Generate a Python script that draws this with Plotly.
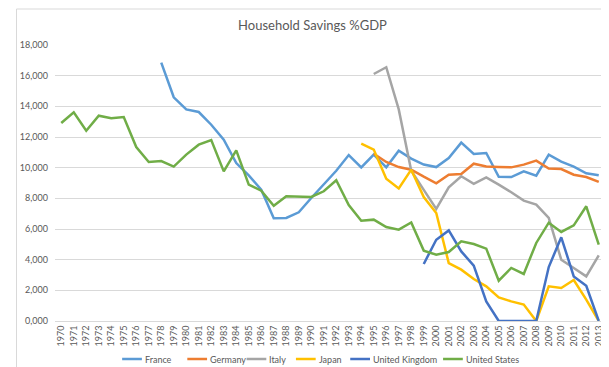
import plotly.graph_objects as go

years = [str(y) for y in range(1970, 2014)]

france = [None] * 8 + [16850, 14590, 13800, 13630, 12800, 11820, 10300, 9500, 8560, 6700,
                       6720, 7090, 8020, 8890, 9800, 10820, 10020, 10850, 10020, 11110,
                       10590, 10200, 10040, 10630, 11630, 10890, 10960, 9410, 9390, 9760,
                       9480, 10850, 10390, 10070, 9630, 9500]
germany = [None] * 25 + [10910, 10370, 10040, 9870, 9410, 8980, 9540, 9590, 10260, 10070,
                         10040, 10020, 10200, 10460, 9940, 9910, 9540, 9390, 9070]
italy = [None] * 25 + [16110, 16550, 13800, 9800, 8550, 7310, 8720, 9440, 8940, 9370,
                       8890, 8400, 7850, 7590, 6720, 4000, 3460, 2910, 4280]
japan = [None] * 24 + [11570, 11180, 9280, 8650, 9870, 8080, 7040, 3780, 3350, 2740,
                       2260, 1540, 1280, 1070, 0, 2260, 2150, 2670, 1390, 0]
uk = [None] * 29 + [3720, 5300, 5910, 4540, 3610, 1280, 0, 0, 0, 0,
                    3520, 5460, 2910, 2300, 0]
us = [12910, 13610, 12410, 13390, 13220, 13300, 11350, 10370, 10430, 10070,
      10850, 11500, 11800, 9760, 11130, 8890, 8500, 7520, 8130, 8110,
      8090, 8460, 9180, 7560, 6540, 6610, 6130, 5960, 6430, 4590,
      4330, 4500, 5200, 5020, 4720, 2630, 3460, 3070, 5090, 6410,
      5810, 6240, 7480, 4980]

series_names = ["France", "Germany", "Italy", "Japan", "United Kingdom", "United States"]
series_values = [france, germany, italy, japan, uk, us]
colors = ["#5B9BD5", "#ED7D31", "#A5A5A5", "#FFC000", "#4472C4", "#70AD47"]

y_tickvals = [0, 2000, 4000, 6000, 8000, 10000, 12000, 14000, 16000, 18000]
y_ticktext = ["0,000", "2,000", "4,000", "6,000", "8,000", "10,000", "12,000",
              "14,000", "16,000", "18,000"]

FONT = "Lato, 'Open Sans', 'DejaVu Sans', sans-serif"
TXT = "#595959"

# plot-area geometry (pixels) used for layout-only placement
W, H = 609, 367
ML, MR, MT, MB = 40, 12, 37, 54
PW, PH = W - ML - MR, H - MT - MB

def px_x(px):
    return (px - ML) / PW

def px_y(py):
    return (H - MB - py) / PH

# legend entry pixel starts (layout only)
legend_starts = [108, 174, 234, 284, 339, 433]
legend_y = 351

fig = go.Figure()
for name, vals, col in zip(series_names, series_values, colors):
    fig.add_trace(go.Scatter(x=years, y=vals, name=name, mode="lines",
                             line=dict(color=col, width=2.5), connectgaps=False,
                             showlegend=False))

shapes = [dict(type="rect", xref="paper", yref="paper",
               x0=px_x(1), x1=px_x(602), y0=px_y(365), y1=px_y(1),
               line=dict(color="#D9D9D9", width=1), fillcolor="rgba(0,0,0,0)",
               layer="below")]
annotations = []
for name, col, sx in zip(series_names, colors, legend_starts):
    shapes.append(dict(type="line", xref="paper", yref="paper",
                       x0=px_x(sx), x1=px_x(sx + 20), y0=px_y(legend_y), y1=px_y(legend_y),
                       line=dict(color=col, width=2.5)))
    annotations.append(dict(text=name, xref="paper", yref="paper",
                            x=px_x(sx + 21), y=px_y(legend_y), xanchor="left",
                            yanchor="middle", showarrow=False,
                            font=dict(family=FONT, size=9, color=TXT)))

fig.update_layout(
    width=W, height=H,
    margin=dict(l=ML, r=MR, t=MT, b=MB),
    paper_bgcolor="white", plot_bgcolor="white",
    title=dict(text="Household Savings %GDP", x=0.5, xref="container",
               y=1 - 17 / H, yref="container", xanchor="center", yanchor="middle",
               font=dict(family=FONT, size=13, color=TXT)),
    showlegend=False,
    xaxis=dict(type="category", range=[-0.5, 43.5], showgrid=False,
               tickangle=-90, tickfont=dict(family=FONT, size=9, color=TXT),
               showline=True, linecolor="#D9D9D9", linewidth=1, ticks="",
               zeroline=False),
    yaxis=dict(range=[0, 18000], tickvals=y_tickvals, ticktext=y_ticktext,
               showgrid=True, gridcolor="#D9D9D9", gridwidth=1,
               tickfont=dict(family=FONT, size=9, color=TXT),
               zeroline=False, showline=False, ticks="", ticklabelstandoff=6),
    shapes=shapes,
    annotations=annotations,
)

fig.write_html("out.html")
